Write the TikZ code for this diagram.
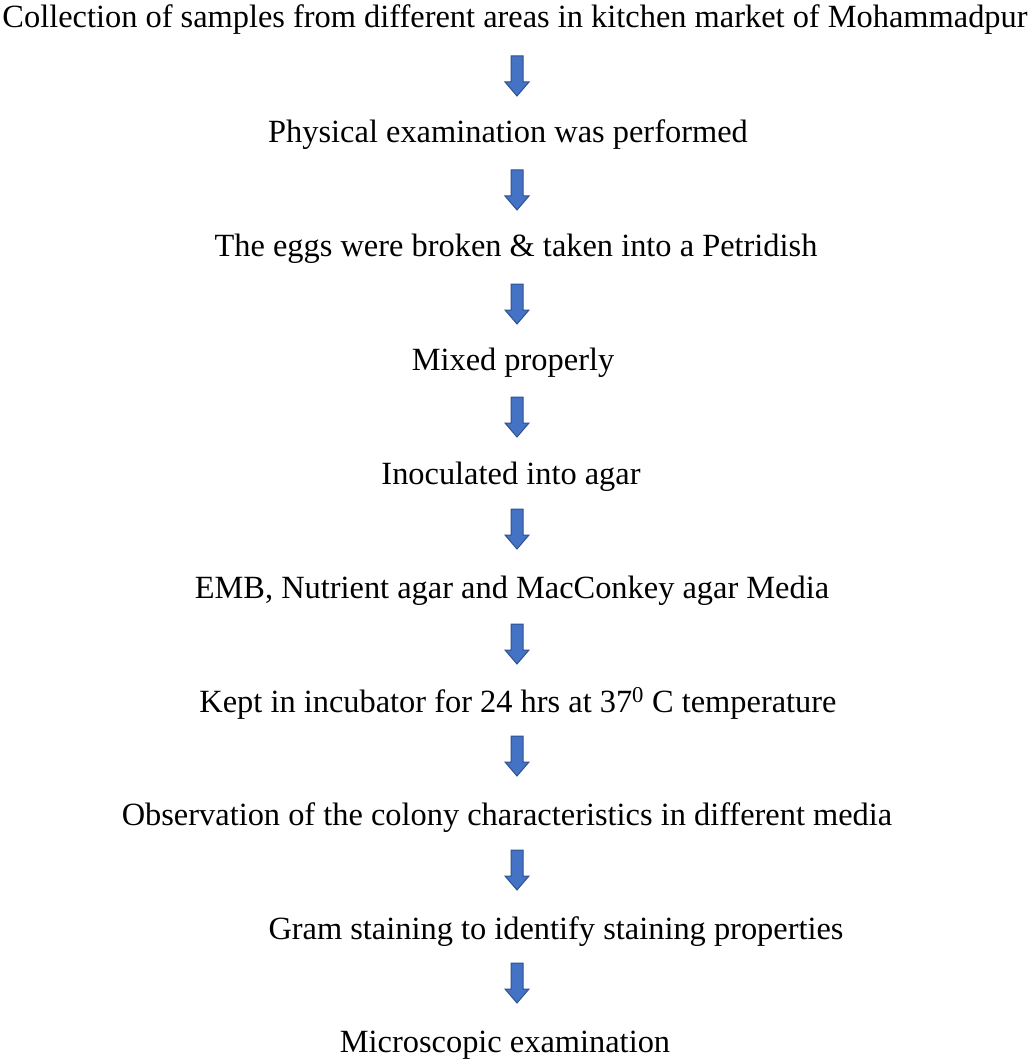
\documentclass[tikz,border=0pt]{standalone}
\usepackage{fontspec}
\setmainfont{Liberation Serif}
\definecolor{arrfill}{RGB}{68,114,196}
\definecolor{arrline}{RGB}{47,82,143}
\begin{document}
\begin{tikzpicture}[x=1pt,y=-1pt,
  stepnode/.style={anchor=base,inner sep=0pt,font=\fontsize{32.4}{40}\selectfont},
  blockarrow/.style={fill=arrfill,draw=arrline,line width=1pt,line join=miter}]
\useasboundingbox (0,0) rectangle (1030,1059);
\node[stepnode] (s1) at (515,28) {Collection of samples from different areas in kitchen market of Mohammadpur};
\node[stepnode] (s2) at (508,143) {Physical examination was performed};
\node[stepnode] (s3) at (516,256) {The eggs were broken \& taken into a Petridish};
\node[stepnode] (s4) at (513,370) {Mixed properly};
\node[stepnode] (s5) at (511,484) {Inoculated into agar};
\node[stepnode] (s6) at (512,598) {EMB, Nutrient agar and MacConkey agar Media};
\node[stepnode] (s7) at (518,712) {Kept in incubator for 24 hrs at 37\textsuperscript{0} C temperature};
\node[stepnode] (s8) at (507,825) {Observation of the colony characteristics in different media};
\node[stepnode] (s9) at (556,939) {Gram staining to identify staining properties};
\node[stepnode] (s10) at (505,1052) {Microscopic examination};
\foreach \n/\y in {a1/56,a2/170,a3/284,a4/397,a5/509,a6/624,a7/736,a8/850,a9/963}{
  \coordinate (\n) at (517,\y);
  \draw[blockarrow] (\n) ++(-6,0) -- ++(12,0) -- ++(0,26) -- ++(6,0) -- ++(-12,14) -- ++(-12,-14) -- ++(6,0) -- cycle;
}
\end{tikzpicture}
\end{document}
